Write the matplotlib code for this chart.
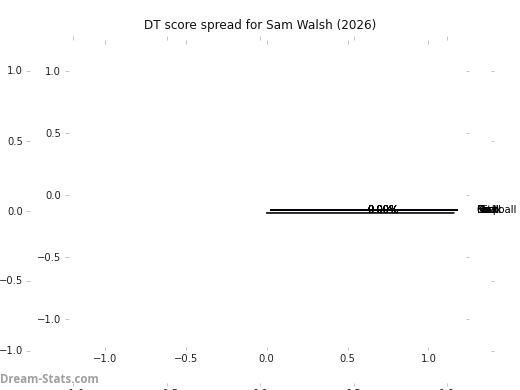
import numpy as np
import matplotlib
matplotlib.use('Agg')
import matplotlib.pyplot as plt

# score bands and their share (all empty for this player/season)
labels = ['Kick', 'Mark', 'Goal', 'Hit', 'Tack', 'Disp', 'Football']
shares = [0.0, 0.0, 0.0, 0.0, 0.0, 0.0, 0.0]
title = 'DT score spread for Sam Walsh (2026)'
ticks = [-1.0, -0.5, 0.0, 0.5, 1.0]

W, H = 520, 390
fig = plt.figure(figsize=(W / 72, H / 72), dpi=72)


def px_axes(left, top, right, bottom):
    return fig.add_axes([left / W, 1 - bottom / H, (right - left) / W, (bottom - top) / H])


def style_empty(ax):
    ax.set_xlim(-1.25, 1.25)
    ax.set_ylim(-1.25, 1.25)
    ax.set_xticks(ticks)
    ax.set_yticks(ticks)
    ax.set_frame_on(False)
    ax.patch.set_visible(False)
    ax.tick_params(direction='in', top=True, right=True, length=3.5, width=1,
                   color='#c4c4c4', labelcolor='#222222', labelsize=10)


# two leftover empty axes
ax_a = px_axes(26.3, 35.5, 493.8, 385.5)
style_empty(ax_a)
ax_a.set_title(title, fontsize=12, color='#111111')

ax_b = px_axes(64.6, 39.7, 468.8, 350.3)
style_empty(ax_b)

# the pie itself
ax_c = px_axes(35, 35, 505, 385)
ax_c.pie(shares, labels=labels, autopct='%1.2f%%', normalize=False,
         colors=['#708090'] * len(shares), shadow=True,
         wedgeprops={'edgecolor': 'black', 'linewidth': 1.5},
         textprops={'fontsize': 10})
ax_c.set_aspect('auto')
ax_c.set_xlim(-1.25, 1.25)
ax_c.set_ylim(-1.25, 1.25)
ax_c.set_frame_on(False)
ax_c.patch.set_visible(False)

fig.text(0.0, 4 / H, 'Dream-Stats.com', fontsize=11.5, fontweight='bold',
         family='Open Sans', color='#a0a0a0', ha='left', va='bottom')

fig.savefig('out.png', dpi=72)
